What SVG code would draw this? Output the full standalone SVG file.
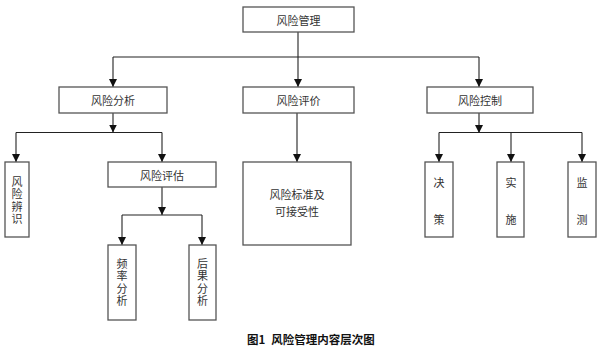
<svg xmlns="http://www.w3.org/2000/svg" width="600" height="349" viewBox="0 0 600 349">
<style>
.box{fill:#fff;stroke:#555;stroke-width:1.3}
.ln{fill:none;stroke:#222;stroke-width:1.1}
.t{font-family:"Noto Sans CJK SC",sans-serif;font-size:11px;fill:#333;text-anchor:middle;dominant-baseline:central}
.v{font-family:"Noto Sans CJK SC",sans-serif;font-size:11px;fill:#333;text-anchor:middle;writing-mode:vertical-rl;letter-spacing:1.3px}
.cap{font-family:"Noto Sans CJK SC",sans-serif;font-size:11.5px;font-weight:bold;fill:#111}
</style>
<defs>
<marker id="ah" viewBox="0 0 8 10" refX="8" refY="5" markerWidth="8" markerHeight="10" orient="auto" markerUnits="userSpaceOnUse">
<path d="M0,1 L8,5 L0,9 Z" fill="#111"/>
</marker>
</defs>
<rect width="600" height="349" fill="#fff"/>
<g id="connectors">
<path class="ln" d="M298,32 V87" marker-end="url(#ah)"/>
<path class="ln" d="M113,57 H479"/>
<path class="ln" d="M113,57 V87" marker-end="url(#ah)"/>
<path class="ln" d="M479,57 V87" marker-end="url(#ah)"/>
<path class="ln" d="M113,113 V132.5" marker-end="url(#ah)"/>
<path class="ln" d="M16,132.5 H162"/>
<path class="ln" d="M16,132.5 V162" marker-end="url(#ah)"/>
<path class="ln" d="M162,132.5 V162" marker-end="url(#ah)"/>
<path class="ln" d="M297,113 V162" marker-end="url(#ah)"/>
<path class="ln" d="M479,113 V133" marker-end="url(#ah)"/>
<path class="ln" d="M439,132.5 H582"/>
<path class="ln" d="M439,132.5 V162" marker-end="url(#ah)"/>
<path class="ln" d="M511,132.5 V162" marker-end="url(#ah)"/>
<path class="ln" d="M582,132.5 V162" marker-end="url(#ah)"/>
<path class="ln" d="M162,187 V215" marker-end="url(#ah)"/>
<path class="ln" d="M122,215 H202"/>
<path class="ln" d="M122,215 V245" marker-end="url(#ah)"/>
<path class="ln" d="M202,215 V245" marker-end="url(#ah)"/>
</g>
<g id="n-root"><rect class="box" x="243" y="7" width="111" height="25"/><text class="t" x="298.5" y="19.5">风险管理</text></g>
<g id="n-analysis"><rect class="box" x="59" y="87" width="108" height="26"/><text class="t" x="113" y="100">风险分析</text></g>
<g id="n-evaluation"><rect class="box" x="243" y="87" width="111" height="26"/><text class="t" x="298.5" y="100">风险评价</text></g>
<g id="n-control"><rect class="box" x="427" y="87" width="106" height="26"/><text class="t" x="480" y="100">风险控制</text></g>
<g id="n-identify"><rect class="box" x="5" y="162" width="24" height="75"/>
<text class="v" x="17" y="201">风险辨识</text></g>
<g id="n-assess"><rect class="box" x="108" y="162" width="108" height="25"/><text class="t" x="162" y="174.5">风险评估</text></g>
<g id="n-standard"><rect class="box" x="243" y="162" width="108" height="83"/><text class="t" x="297" y="194">风险标准及</text><text class="t" x="297" y="210.5">可接受性</text></g>
<g id="n-decide"><rect class="box" x="425" y="162" width="28" height="75"/><text class="t" x="439" y="182">决</text><text class="t" x="439" y="219">策</text></g>
<g id="n-implement"><rect class="box" x="497" y="162" width="27" height="75"/><text class="t" x="511" y="182">实</text><text class="t" x="511" y="219">施</text></g>
<g id="n-monitor"><rect class="box" x="568" y="162" width="28" height="75"/><text class="t" x="582" y="182">监</text><text class="t" x="582" y="219">测</text></g>
<g id="n-freq"><rect class="box" x="108" y="245" width="28" height="75"/>
<text class="v" x="122" y="283">频率分析</text></g>
<g id="n-conseq"><rect class="box" x="189" y="245" width="27" height="75"/>
<text class="v" x="202.5" y="283">后果分析</text></g>
<text class="cap" x="247" y="344">图1<tspan dx="6">风险管理内容层次图</tspan></text>
</svg>
